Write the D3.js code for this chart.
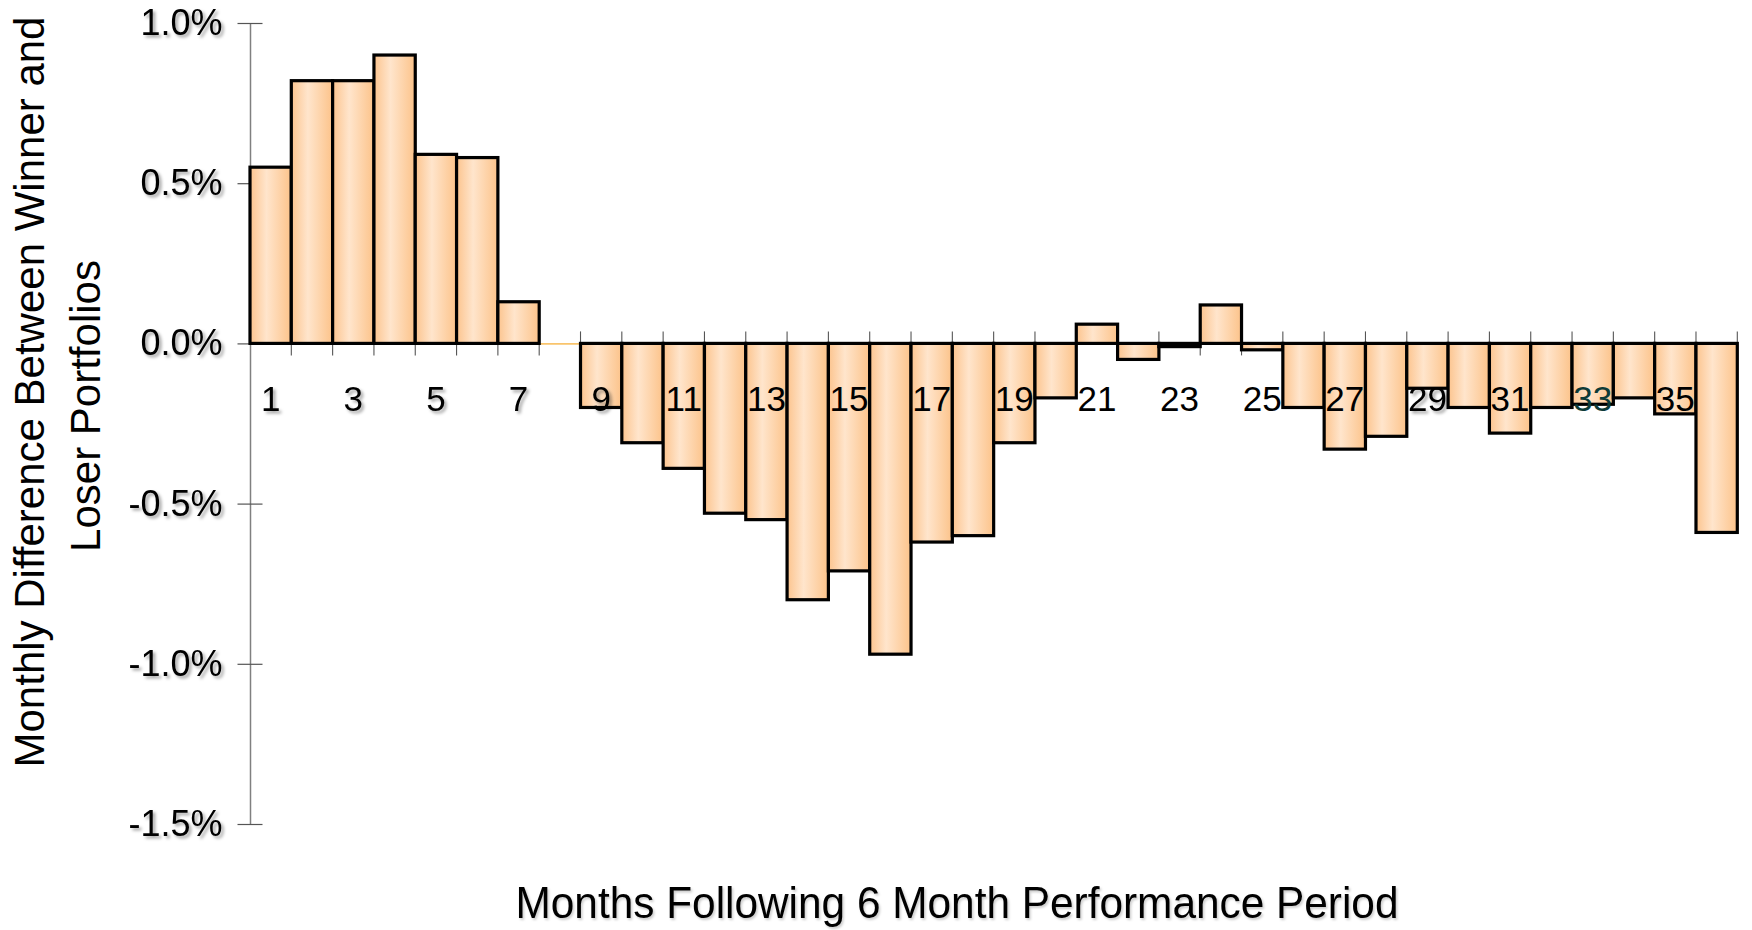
<!DOCTYPE html>
<html>
<head>
<meta charset="utf-8">
<script src="https://cdn.jsdelivr.net/npm/d3@7"></script>
<style>
  html, body { margin: 0; padding: 0; background: #fff; }
  svg { display: block; font-family: "Liberation Sans", Arial, sans-serif; }
</style>
</head>
<body>
<svg id="chart" width="1752" height="930"></svg>
<script>
// Months after the 6-month formation period
const months = d3.range(1, 37);
// Monthly return difference, winners minus losers (%); month 8 has no bar
const spread = [
  0.55, 0.82, 0.82, 0.90, 0.59, 0.58, 0.13, null,
  -0.20, -0.31, -0.39, -0.53, -0.55, -0.80, -0.71, -0.97,
  -0.62, -0.60, -0.31, -0.17, 0.06, -0.05, -0.01, 0.12,
  -0.02, -0.20, -0.33, -0.29, -0.14, -0.20, -0.28, -0.20,
  -0.19, -0.17, -0.22, -0.59
];
// Category labels shown on the axis (odd months)
const monthLabels = [1, 3, 5, 7, 9, 11, 13, 15, 17, 19, 21, 23, 25, 27, 29, 31, 33, 35];
// Value axis ticks (%)
const yTicks = [-1.5, -1.0, -0.5, 0.0, 0.5, 1.0];

const xTitle = "Months Following 6 Month Performance Period";
const yTitleLines = ["Monthly Difference Between Winner and", "Loser Portfolios"];

const data = months.map((m, i) => ({ month: m, value: spread[i] }));

const svg = d3.select("#chart");

const x = d3.scaleBand().domain(months).range([250, 1737.3]).padding(0);
const y = d3.scaleLinear().domain([-1.5, 1.0]).range([824, 23]);

const defs = svg.append("defs");
const grad = defs.append("linearGradient")
  .attr("id", "barFill").attr("x1", "0").attr("x2", "1").attr("y1", "0").attr("y2", "0");
grad.append("stop").attr("offset", "0").attr("stop-color", "#fcc48e");
grad.append("stop").attr("offset", "0.4").attr("stop-color", "#ffe5cc");
grad.append("stop").attr("offset", "1").attr("stop-color", "#fcc38a");

const shadow = defs.append("filter").attr("id", "textShadow")
  .attr("x", "-20%").attr("y", "-20%").attr("width", "150%").attr("height", "160%");
shadow.append("feDropShadow").attr("dx", 2.5).attr("dy", 2.5)
  .attr("stdDeviation", 1.6).attr("flood-color", "#000").attr("flood-opacity", 0.35);

const softShadow = defs.append("filter").attr("id", "softShadow")
  .attr("x", "-5%").attr("y", "-20%").attr("width", "110%").attr("height", "160%");
softShadow.append("feDropShadow").attr("dx", 1.5).attr("dy", 2)
  .attr("stdDeviation", 1.2).attr("flood-color", "#000").attr("flood-opacity", 0.2);

// Percent labels with a plain hyphen for the sign
const pct = d => d3.format(".1%")(d / 100).replace("\u2212", "-");

// Value axis
const yAxis = d3.axisLeft(y)
  .tickValues(yTicks)
  .tickFormat(pct)
  .tickSizeInner(12.5)
  .tickSizeOuter(0)
  .tickPadding(15);

const gy = svg.append("g").attr("transform", "translate(250,0)").call(yAxis);
gy.select(".domain").attr("stroke", "#808080").attr("stroke-width", 1.5);
gy.selectAll(".tick line").attr("x1", 12.5).attr("stroke", "#555").attr("stroke-width", 1.2);
gy.selectAll(".tick text")
  .attr("font-size", 36)
  .attr("fill", "#000")
  .attr("filter", "url(#textShadow)");

// Zero line
svg.append("line")
  .attr("x1", x.range()[0]).attr("x2", x.range()[1])
  .attr("y1", y(0) + 0.5).attr("y2", y(0) + 0.5)
  .attr("stroke", "#f9c46c").attr("stroke-width", 1.6);

// Category boundary ticks crossing the zero line
const boundaries = d3.range(months.length + 1).map(i => x.range()[0] + i * x.step());
svg.append("g").selectAll("line")
  .data(boundaries.slice(1))
  .join("line")
  .attr("x1", d => d).attr("x2", d => d)
  .attr("y1", y(0) - 12).attr("y2", y(0) + 12)
  .attr("stroke", "#555").attr("stroke-width", 1.1);

// Bars
svg.append("g").selectAll("rect")
  .data(data.filter(d => d.value !== null))
  .join("rect")
  .attr("x", d => x(d.month))
  .attr("width", x.bandwidth())
  .attr("y", d => y(Math.max(0, d.value)))
  .attr("height", d => Math.abs(y(d.value) - y(0)))
  .attr("fill", "url(#barFill)")
  .attr("stroke", "#000")
  .attr("stroke-width", 3.2);

// Category labels
const shadowed = new Set([1, 3, 5, 7, 9, 29]);
const xAxis = d3.axisBottom(x)
  .tickValues(monthLabels)
  .tickSize(0)
  .tickPadding(0);
const gx = svg.append("g").attr("transform", "translate(0,386)").call(xAxis);
gx.select(".domain").remove();
gx.selectAll(".tick text")
  .attr("font-size", 35)
  .attr("fill", d => d === 33 ? "#0d3b38" : "#000")
  .attr("filter", d => shadowed.has(d) ? "url(#textShadow)" : null);

// Axis titles
svg.append("text")
  .attr("x", 957).attr("y", 918)
  .attr("text-anchor", "middle")
  .attr("font-size", 44)
  .attr("textLength", 883)
  .attr("lengthAdjust", "spacingAndGlyphs")
  .attr("filter", "url(#softShadow)")
  .text(xTitle);

const yTitle = svg.append("g");
yTitle.append("text")
  .attr("transform", "translate(44,392) rotate(-90)")
  .attr("text-anchor", "middle")
  .attr("font-size", 42)
  .text(yTitleLines[0]);
yTitle.append("text")
  .attr("transform", "translate(100,406) rotate(-90)")
  .attr("text-anchor", "middle")
  .attr("font-size", 42)
  .text(yTitleLines[1]);
</script>
</body>
</html>
